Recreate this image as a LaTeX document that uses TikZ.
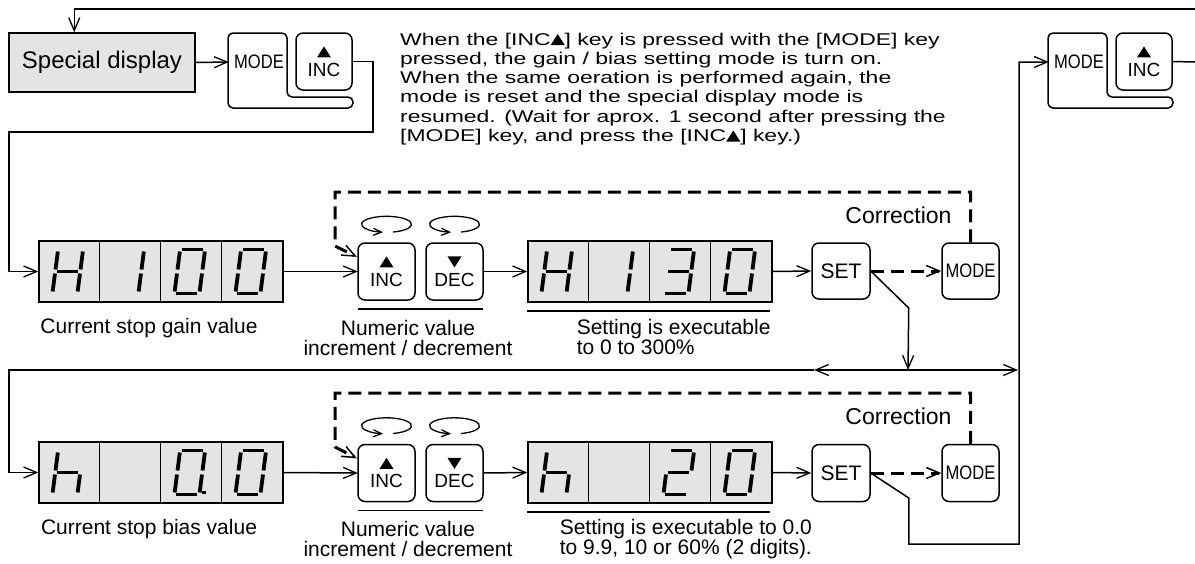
\documentclass[tikz,border=0pt]{standalone}
\usepackage{fontspec}
\setmainfont{Liberation Sans}
\newfontfamily\widefont[FakeStretch=1.35]{Liberation Sans}
\newfontfamily\narrowfont[FakeStretch=0.85]{Liberation Sans}
\usetikzlibrary{arrows.meta,positioning,calc}
\definecolor{PanelGray}{RGB}{228,228,228}

\newcommand{\uptri}{\tikz[baseline=0pt,sharp corners]\fill (0pt,0pt) -- (14pt,0pt) -- (7pt,11pt) -- cycle;}
\newcommand{\downtri}{\tikz[baseline=0pt,sharp corners]\fill (0pt,11pt) -- (14pt,11pt) -- (7pt,0pt) -- cycle;}

% one italic seven-segment digit, #1 = centre, #2 = lit segments
\newcommand{\segdigit}[2]{%
  \begin{scope}[shift={#1},xslant=0.13]
    \coordinate (sa1) at (-10.5,-22); \coordinate (sa2) at (10.5,-22);
    \coordinate (sb1) at (12.5,-20);  \coordinate (sb2) at (12.5,-2);
    \coordinate (sc1) at (12.5,2);    \coordinate (sc2) at (12.5,20);
    \coordinate (sd1) at (-10.5,22);  \coordinate (sd2) at (10.5,22);
    \coordinate (se1) at (-12.5,2);   \coordinate (se2) at (-12.5,20);
    \coordinate (sf1) at (-12.5,-20); \coordinate (sf2) at (-12.5,-2);
    \coordinate (sg1) at (-10.5,0);   \coordinate (sg2) at (10.5,0);
    \coordinate (sp1) at (15,20);     \coordinate (sp2) at (18.5,20);
    \coordinate (sn1) at (0,0);       \coordinate (sn2) at (0,0);
    \foreach \s in #2 {\draw[segline] (s\s1) -- (s\s2);}
  \end{scope}}

% MODE + INC pair pressed together, #1 = left x, #2 = name prefix
\newcommand{\keypair}[2]{%
  \node[keybox,minimum width=56pt] (#2inc) at (#1+96,61.5) {\uptri\\INC};
  \node[modekey,draw=none,minimum width=59pt] (#2mode) at (#1+31,62) {MODE};
  \draw[rounded corners=5pt] (#1,33) -- (#1+59,33) -- (#1+59,97) -- (#1+125,97)
    -- (#1+125,108) -- (#1,108) -- cycle;}

\begin{document}
\begin{tikzpicture}[x=1pt,y=-1pt,
    line width=1.5pt,
    ar/.style={-{Straight Barb[length=13pt,width=11pt,line width=1.3pt]}},
    dashar/.style={line width=3pt,dash pattern=on 13pt off 7pt,
                   -{Straight Barb[length=13pt,width=11pt,line width=1.5pt]}},
    loopar/.style={line width=1.3pt,-{Straight Barb[length=8pt,width=7pt]}},
    keybox/.style={draw,rounded corners=7pt,minimum width=57pt,minimum height=57pt,
                   inner sep=0pt,align=center,font=\fontsize{19}{19}\selectfont},
    modekey/.style={keybox,font=\narrowfont\fontsize{19.5}{19.5}\selectfont},
    setkey/.style={keybox,font=\fontsize{21}{21}\selectfont},
    disp/.style={draw,fill=PanelGray,minimum width=244pt,minimum height=61pt,inner sep=0pt},
    segline/.style={line width=3.8pt,line cap=butt},
    lbl/.style={font=\fontsize{21}{20.5}\selectfont,inner sep=0pt},
    corr/.style={font=\fontsize{23}{23}\selectfont,inner sep=0pt},
    para/.style={font=\widefont\fontsize{17}{19.3}\selectfont,align=left,inner sep=0pt}
  ]
  \useasboundingbox (0,0) rectangle (1195,563);

  % special display and key pairs
  \node[draw,fill=PanelGray,minimum width=186pt,minimum height=59pt,
        font=\fontsize{24}{24}\selectfont] (sd) at (102,62.5) {Special display};
  \keypair{228}{L}
  \keypair{1048}{R}
  \node[para,anchor=north west] (note) at (400,32.5)
    {When the [INC\uptri] key is pressed with the [MODE] key\\
     pressed, the gain / bias setting mode is turn on.\\
     When the same oeration is performed again, the\\
     mode is reset and the special display mode is\\
     resumed. (Wait for aprox. 1 second after pressing the\\{}%
     [MODE] key, and press the [INC\uptri] key.)};

  % gain row
  \node[disp] (gainNow) at (161,271.5) {};
  \node[disp] (gainSet) at (650,271.5) {};
  \node[keybox] (inc1) at (386.5,271.5) {\uptri\\INC};
  \node[keybox] (dec1) at (454.5,271.5) {\downtri\\DEC};
  \node[setkey,minimum width=58pt,minimum height=56pt] (set1) at (841,271) {SET};
  \node[modekey,minimum height=56pt] (mode1) at (970.5,271) {MODE};
  \node[corr] (corr1) at (898.5,215) {Correction};

  % bias row
  \node[disp] (biasNow) at (161,472.5) {};
  \node[disp] (biasSet) at (650,472.5) {};
  \node[keybox] (inc2) at (386.5,473) {\uptri\\INC};
  \node[keybox] (dec2) at (454.5,473) {\downtri\\DEC};
  \node[setkey,minimum width=58pt] (set2) at (841,473) {SET};
  \node[modekey] (mode2) at (970.5,473) {MODE};
  \node[corr] (corr2) at (898.5,416) {Correction};

  % display cells and digits
  \foreach \d in {gainNow,gainSet,biasNow,biasSet}
    \foreach \k in {1,2,3}
      \draw[line width=1.2pt] ($(\d.north west)+(61*\k,0)$) -- ($(\d.south west)+(61*\k,0)$);
  \foreach \lit [count=\k] in {{b,c,e,f,g},{b,c},{a,b,c,d,e,f},{a,b,c,d,e,f}}
    {\segdigit{($(gainNow.west)+(61*\k-31.5,0)$)}{\lit}}
  \foreach \lit [count=\k] in {{b,c,e,f,g},{b,c},{a,b,c,d,g},{a,b,c,d,e,f}}
    {\segdigit{($(gainSet.west)+(61*\k-31.5,0)$)}{\lit}}
  \foreach \lit [count=\k] in {{c,e,f,g},{n},{a,b,c,d,e,f,p},{a,b,c,d,e,f}}
    {\segdigit{($(biasNow.west)+(61*\k-31.5,0)$)}{\lit}}
  \foreach \lit [count=\k] in {{c,e,f,g},{n},{a,b,d,e,g},{a,b,c,d,e,f}}
    {\segdigit{($(biasSet.west)+(61*\k-31.5,0)$)}{\lit}}

  % repeat marks over INC / DEC
  \foreach \k in {inc1,dec1,inc2,dec2}
    \draw[loopar] ($(\k.north)+(0,-18.5)$) ++(75:25 and 8)
      arc[start angle=75,end angle=-262,x radius=25,y radius=8];

  % underlines and labels
  \draw ($(inc1.south west)+(0,9)$) -- ($(dec1.south east)+(0,9)$);
  \draw ($(gainSet.south west)+(0,8)$) -- ($(gainSet.south east)+(-3,8)$);
  \draw ($(inc2.south west)+(0,9)$) -- ($(dec2.south east)+(0,9)$);
  \draw ($(biasSet.south west)+(0,8)$) -- ($(biasSet.south east)+(-3,8)$);
  \node[lbl] (gainNowLbl) at (149,328) {Current stop gain value};
  \node[lbl,align=center] (gainKeyLbl) at (408,338) {Numeric value\\increment / decrement};
  \node[lbl,align=left,anchor=west] (gainSetLbl) at (576,337) {Setting is executable\\to 0 to 300\%};
  \node[lbl] (biasNowLbl) at (149,529) {Current stop bias value};
  \node[lbl,align=center] (biasKeyLbl) at (408,539) {Numeric value\\increment / decrement};
  \node[lbl,align=left,anchor=west] (biasSetLbl) at (559,539)
    {Setting is executable to 0.0\\to 9.9, 10 or 60\% (2 digits).};

  % flow
  \coordinate (inR) at (1195,9);
  \coordinate (outR) at (1195,62);
  \coordinate (c1) at (9,132);
  \coordinate (j1) at (908,370);
  \coordinate (midL) at (814,370);
  \coordinate (leftL) at (9,370);
  \coordinate (rtL) at (1018,370);
  \coordinate (rv) at (1019,62);
  \coordinate (fb1) at (335,192);
  \coordinate (fb2) at (335,393);

  \draw[ar] (inR) -| ($(sd.north west)+(66,0)$);
  \draw[ar] (sd.east) -- (Lmode.west);
  \draw[ar] (Linc.east) -- ++(21,0) |- (c1) |- (gainNow.west);
  \draw[ar] (gainNow.east) -- (inc1.west);
  \draw[ar] (dec1.east) -- (gainSet.west);
  \draw[ar] (gainSet.east) -- (set1.west);
  \draw[dashar] (set1.east) -- (mode1.west);
  \draw[dashar] (mode1.north) -- (mode1.north |- fb1) -- (fb1) -- ++(0,54)
    -- ($(inc1.north west)+(-1,14)$);
  \draw[ar] (set1.east) -- ++(38,37) -- (j1);
  \draw[ar] (j1) -- (midL);
  \draw[ar] (midL) -- (leftL) |- (biasNow.west);
  \draw[ar] (j1) -- (rtL);

  \draw[ar] (biasNow.east) -- (inc2.west);
  \draw[ar] (dec2.east) -- (biasSet.west);
  \draw[ar] (biasSet.east) -- (set2.west);
  \draw[dashar] (set2.east) -- (mode2.west);
  \draw[dashar] (mode2.north) -- (mode2.north |- fb2) -- (fb2) -- ++(0,54)
    -- ($(inc2.north west)+(-1,14)$);
  \draw[ar] (set2.east) -- ++(38,25) -- ++(0,46) -| (rv) -- (Rmode.west);
  \draw (Rinc.east) -- (outR);
\end{tikzpicture}
\end{document}
